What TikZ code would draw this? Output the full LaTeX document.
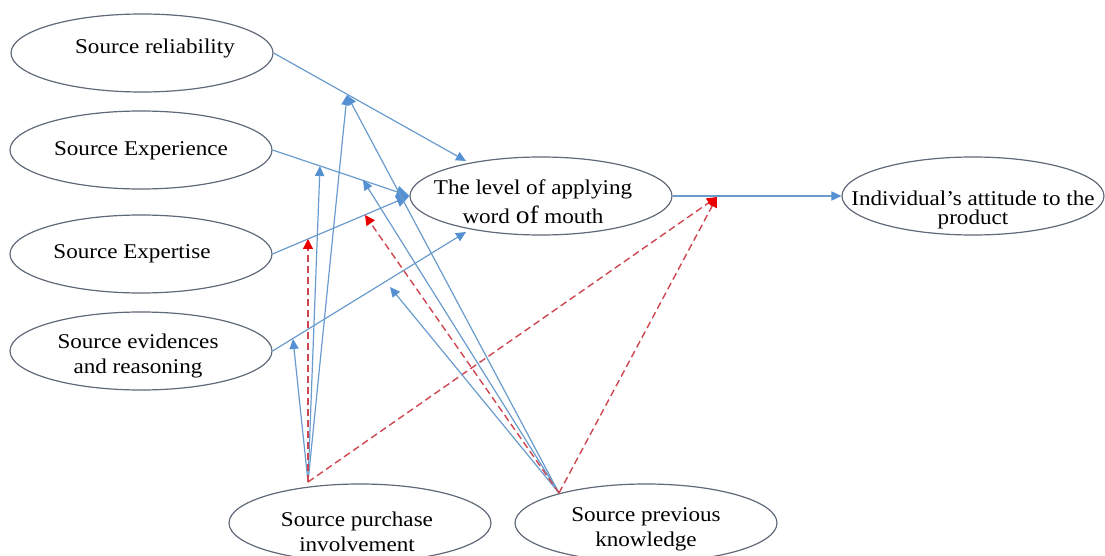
\documentclass[tikz,border=0pt]{standalone}
\usepackage{fontspec}
\setmainfont{Liberation Serif}[FakeStretch=1.1]
\usetikzlibrary{arrows.meta,shapes.geometric}
\definecolor{ellline}{RGB}{95,105,120}
\definecolor{bline}{RGB}{105,155,205}
\definecolor{btip}{RGB}{85,145,210}
\definecolor{rline}{RGB}{205,70,80}
\definecolor{rtip}{RGB}{235,0,0}
\begin{document}
\begin{tikzpicture}[x=0.5pt,y=-0.5pt,
  oval/.style={ellipse, draw=ellline, line width=0.6pt, minimum width=131pt,
    minimum height=39pt, inner sep=0pt},
  lbl/.style={align=center, font=\fontsize{10.5}{12.5}\selectfont, inner sep=0pt},
  link/.style={draw=bline, line width=0.6pt,
    -{Triangle[length=5pt,width=4.6pt,color=btip]}},
  biglink/.style={link, -{Triangle[length=6.5pt,width=6pt,color=btip]}},
  mod/.style={draw=rline, line width=0.7pt, dash pattern=on 3.5pt off 2pt,
    -{Triangle[length=5pt,width=5pt,color=rtip]}},
]
\useasboundingbox (0,0) rectangle (1105,556);

% constructs
\node[oval] (rel)   at (142,53)  {};
\node[oval] (exp)   at (141,150) {};
\node[oval] (expt)  at (141,254) {};
\node[oval] (evid)  at (141,351) {};
\node[oval] (level) at (541,196) {};
\node[oval] (indiv) at (973,196) {};
\node[oval] (purch) at (360,523) {};
\node[oval] (know)  at (646,523) {};

% their labels
\node[lbl] (reltext)   at (155,48)  {Source reliability};
\node[lbl] (exptext)   at (141,151) {Source Experience};
\node[lbl] (expttext)  at (132,254) {Source Expertise};
\node[lbl] (evidtext)  at (138,356) {Source evidences\\and reasoning};
\node[lbl] (leveltext) at (533,202) {The level of applying\\[2pt]word {\fontsize{12.5}{12}\selectfont of} mouth};
\node[lbl] (indivtext) at (973,210) {Individual’s attitude to the\\[-3pt]product};
\node[lbl] (purchtext) at (357,532) {Source purchase\\involvement};
\node[lbl] (knowtext)  at (646,529) {Source previous\\knowledge};

% ends of paths and points where moderators meet them
\coordinate (relend)  at (466,161);
\coordinate (evidend) at (466,232);
\coordinate (onrel)   at (347,95);
\coordinate (onexpA)  at (320,166);
\coordinate (onexpB)  at (363,180);
\coordinate (onexptA) at (308,239);
\coordinate (onexptB) at (365,215);
\coordinate (onevidA) at (293,339);
\coordinate (onevidB) at (390,287);
\coordinate (onout)   at (717,197);
\coordinate (papex)   at (308,482);
\coordinate (kapex)   at (559,493);

% main paths
\draw[link]    (rel.east)   -- (relend);
\draw[biglink] (exp.east)   -- (level.west);
\draw[biglink] (expt.east)  -- (level.west);
\draw[link]    (evid.east)  -- (evidend);
\draw[link]    (level.east) -- (indiv.west);

% purchase involvement as moderator
\draw[link] (papex) -- (onevidA);
\draw[link] (papex) -- (onexpA);
\draw[link] (papex) -- (onrel);
\draw[mod]  (papex) -- (onexptA);
\draw[mod]  (papex) -- (onout);

% previous knowledge as moderator
\draw[link] (kapex) -- (onrel);
\draw[link] (kapex) -- (onexpB);
\draw[link] (kapex) -- (onevidB);
\draw[mod]  (kapex) -- (onexptB);
\draw[mod]  (kapex) -- (onout);
\end{tikzpicture}
\end{document}
